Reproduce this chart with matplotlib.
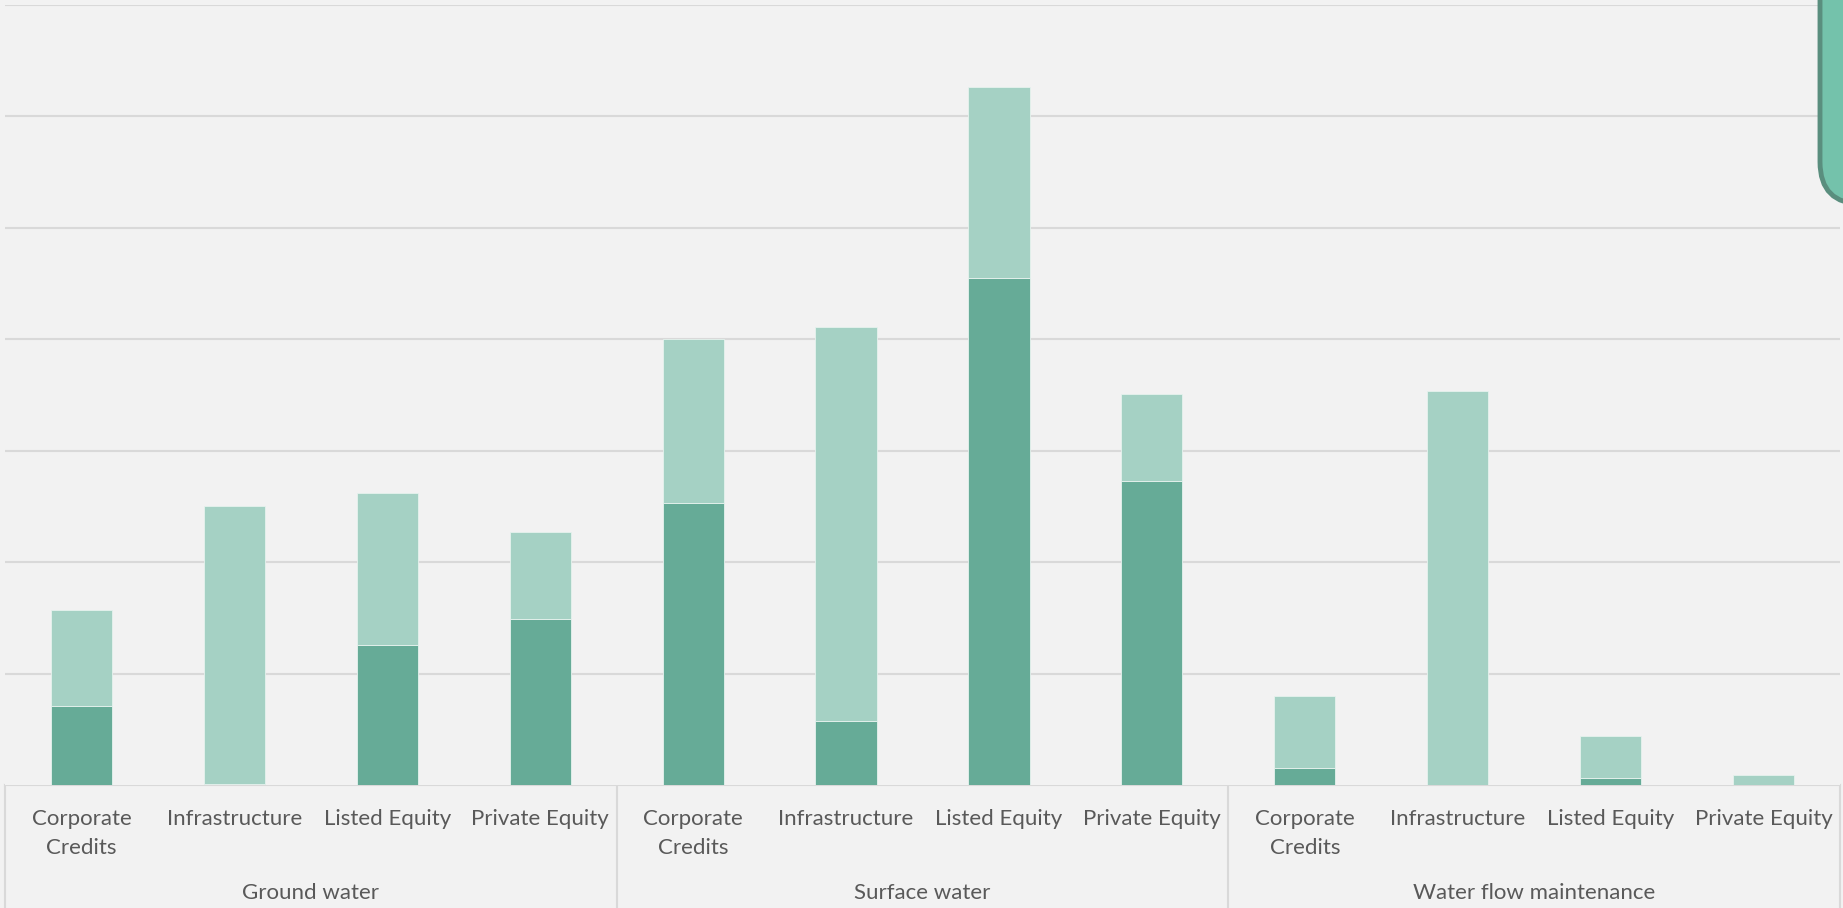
import matplotlib
matplotlib.use("Agg")
import matplotlib.pyplot as plt
import matplotlib.transforms as mtransforms
from matplotlib.patches import FancyBboxPatch
import numpy as np

# Data: stacked values per asset class within each water category
groups = ["Ground water", "Surface water", "Water flow maintenance"]
asset_classes = ["Corporate\nCredits", "Infrastructure", "Listed Equity", "Private Equity"]
dark_vals = [0.71, 0.01, 1.26, 1.49,
             2.53, 0.57, 4.55, 2.73,
             0.15, 0.00, 0.06, 0.00]
light_vals = [0.86, 2.49, 1.36, 0.78,
              1.47, 3.54, 1.71, 0.78,
              0.65, 3.54, 0.38, 0.09]

dark_color = "#66AB97"
light_color = "#A5D1C4"
bg = "#F2F2F2"
grid_color = "#D9D9D9"
text_color = "#595959"

W, H = 1843, 908
fig = plt.figure(figsize=(W / 100, H / 100), dpi=100, facecolor=bg)
plt.rcParams["font.family"] = ["Lato", "DejaVu Sans"]

ax_left, ax_right, base_y, top_y = 5, 1840, 785, 5
ax = fig.add_axes([ax_left / W, (H - base_y) / H,
                   (ax_right - ax_left) / W, (base_y - top_y) / H])
ax.set_facecolor(bg)

n = len(groups) * len(asset_classes)
x = np.arange(n)
ax.bar(x, dark_vals, width=0.4, color=dark_color, edgecolor="#E6F2EE", linewidth=0.6, zorder=3)
ax.bar(x, light_vals, width=0.4, bottom=dark_vals, color=light_color,
       edgecolor="#E6F2EE", linewidth=0.6, zorder=3)

ax.set_xlim(-0.5, n - 0.5)
ax.set_ylim(0, 7)
ax.set_yticks(np.arange(1, 8))
ax.yaxis.grid(True, color=grid_color, linewidth=1.5, zorder=0)
ax.tick_params(left=False, bottom=False, labelleft=False, labelbottom=False)
for s in ax.spines.values():
    s.set_visible(False)

# category axis box beneath the plot, drawn in pixel coordinates
ov = fig.add_axes([0, 0, 1, 1], zorder=-1)
ov.set_xlim(0, W)
ov.set_ylim(0, H)
ov.axis("off")
ov.patch.set_alpha(0)
gy = H - base_y
ov.plot([ax_left, ax_right], [gy, gy], color=grid_color, lw=1.5)
cat_w = (ax_right - ax_left) / n
for k in range(len(groups) + 1):
    xd = ax_left + k * len(asset_classes) * cat_w
    ov.plot([xd, xd], [0, gy], color=grid_color, lw=1.5)

# labels, one baseline per text line
trans = mtransforms.blended_transform_factory(ax.transData, fig.transFigure)
line_baselines = [825, 854]
for i in range(n):
    lines = asset_classes[i % len(asset_classes)].split("\n")
    for line, yb in zip(lines, line_baselines):
        ax.text(x[i], (H - yb) / H, line, transform=trans,
                ha="center", va="baseline", fontsize=16, color=text_color,
                clip_on=False)
for g, name in enumerate(groups):
    xc = g * len(asset_classes) + (len(asset_classes) - 1) / 2
    ax.text(xc, (H - 899) / H, name, transform=trans, ha="center", va="baseline",
            fontsize=16, color=text_color, clip_on=False)

# rounded callout box peeking in at the top right
top_ov = fig.add_axes([0, 0, 1, 1], zorder=5)
top_ov.set_xlim(0, W)
top_ov.set_ylim(0, H)
top_ov.axis("off")
top_ov.patch.set_alpha(0)
box = FancyBboxPatch((1820, H - 204), 120, 300,
                     boxstyle="round,pad=0,rounding_size=42",
                     facecolor="#74C2AB", edgecolor="#5A8E7E", linewidth=3.5)
top_ov.add_patch(box)

fig.savefig("out.png", dpi=100, facecolor=bg)
